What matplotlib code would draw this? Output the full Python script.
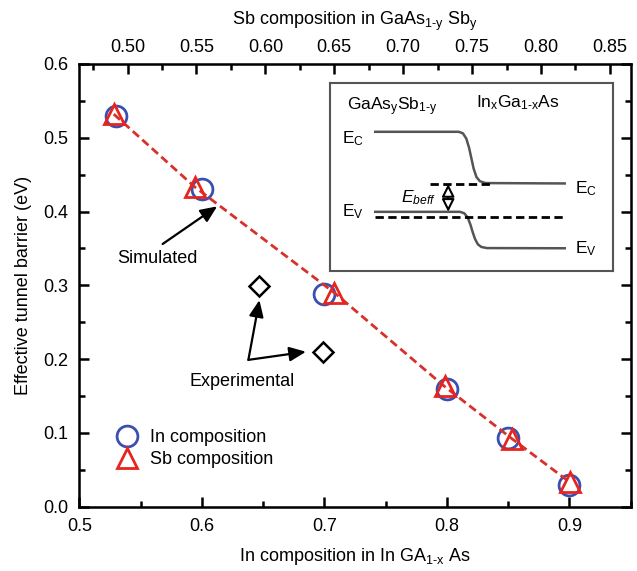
import numpy as np
import matplotlib
matplotlib.use("Agg")
import matplotlib.pyplot as plt
from matplotlib.ticker import MultipleLocator

plt.rcParams['font.family'] = 'Liberation Sans'
plt.rcParams['font.size'] = 12.5
plt.rcParams['mathtext.fontset'] = 'custom'
plt.rcParams['mathtext.rm'] = 'Liberation Sans'
plt.rcParams['mathtext.it'] = 'Liberation Sans:italic'
plt.rcParams['mathtext.default'] = 'regular'

HY = '\u2010'  # plain hyphen inside subscripts

# simulated barrier vs In composition (bottom axis)
in_comp = [0.53, 0.60, 0.70, 0.80, 0.85, 0.90]
in_barrier = [0.530, 0.430, 0.288, 0.160, 0.093, 0.030]

# simulated barrier vs Sb composition (top axis)
sb_comp = [0.490, 0.549, 0.650, 0.730, 0.779, 0.821]
sb_barrier = [0.532, 0.433, 0.290, 0.163, 0.092, 0.033]

# experimental points (bottom axis)
exp_comp = [0.647, 0.699]
exp_barrier = [0.299, 0.210]

# inset band diagram (schematic, inset-axes units)
ec_x = [0.16, 0.455, 0.47, 0.482, 0.492, 0.50, 0.508, 0.518, 0.53, 0.55, 0.83]
ec_y = [0.741, 0.741, 0.733, 0.705, 0.655, 0.60, 0.545, 0.50, 0.478, 0.468, 0.466]
ev_x = [0.16, 0.46, 0.475, 0.487, 0.497, 0.505, 0.513, 0.523, 0.535, 0.555, 0.83]
ev_y = [0.315, 0.315, 0.307, 0.285, 0.245, 0.205, 0.17, 0.142, 0.128, 0.122, 0.121]

BLUE = '#3b4fb0'
RED = '#e8241e'

fig = plt.figure(figsize=(6.37, 5.71), dpi=100)
ax = fig.add_axes([0.1245, 0.1126, 0.8655, 0.7754])

ax.plot(in_comp, in_barrier, 'o', ms=15, mfc='none', mec=BLUE, mew=2,
        label='In composition', zorder=3)
ax.plot(exp_comp, exp_barrier, 'D', ms=10, mfc='none', mec='black', mew=1.8,
        zorder=3)

ax.set_xlim(0.5, 0.95)
ax.set_ylim(0.0, 0.6)
ax.xaxis.set_major_locator(MultipleLocator(0.1))
ax.xaxis.set_minor_locator(MultipleLocator(0.05))
ax.yaxis.set_major_locator(MultipleLocator(0.1))
ax.yaxis.set_minor_locator(MultipleLocator(0.05))
ax.tick_params(which='both', direction='in', right=True, width=1.8)
ax.tick_params(which='major', length=7, labelsize=13, pad=8)
ax.tick_params(which='minor', length=4)
ax.set_xticklabels([f'{v:.1f}' for v in ax.get_xticks()])
ax.set_yticklabels([f'{v:.1f}' for v in ax.get_yticks()])
for s in ax.spines.values():
    s.set_linewidth(1.8)
ax.set_xlabel(f'In composition in In GA$_{{1{HY}x}}$ As', fontsize=13,
              labelpad=8)
ax.set_ylabel('Effective tunnel barrier (eV)', fontsize=13, labelpad=8)

ax2 = ax.twiny()
ax2.set_xlim(0.465, 0.865)
ax2.plot(sb_comp, sb_barrier, '--', color='#d6312a', lw=2, dashes=(3, 1.6),
         zorder=2)
ax2.plot(sb_comp, sb_barrier, '^', ms=15, mfc='none', mec=RED, mew=2,
         label='Sb composition', zorder=4)
ax2.xaxis.set_major_locator(MultipleLocator(0.05))
ax2.xaxis.set_minor_locator(MultipleLocator(0.025))
ax2.tick_params(which='both', direction='in', width=1.8)
ax2.tick_params(which='major', length=7, labelsize=13, pad=6)
ax2.tick_params(which='minor', length=4)
ax2.set_xticklabels([f'{v:.2f}' for v in ax2.get_xticks()])
ax2.set_xlabel(f'Sb composition in GaAs$_{{1{HY}y}}$ Sb$_{{y}}$', fontsize=13,
               labelpad=10)

h1, l1 = ax.get_legend_handles_labels()
h2, l2 = ax2.get_legend_handles_labels()
ax2.legend(h1 + h2, l1 + l2, loc='lower left', bbox_to_anchor=(0.04, 0.07),
           frameon=False, fontsize=13, handletextpad=0.3, labelspacing=0.3,
           borderaxespad=0)

arrow = dict(arrowstyle='-|>,head_length=0.8,head_width=0.35', color='black',
             lw=1.6, shrinkA=0, shrinkB=0)
ax.text(0.531, 0.337, 'Simulated', ha='left', va='center', fontsize=13)
ax.annotate('', xy=(0.6125, 0.407), xytext=(0.568, 0.356), arrowprops=arrow)
ax.text(0.590, 0.170, 'Experimental', ha='left', va='center', fontsize=13)
ax.annotate('', xy=(0.647, 0.280), xytext=(0.638, 0.199), arrowprops=arrow)
ax.annotate('', xy=(0.685, 0.210), xytext=(0.638, 0.199), arrowprops=arrow)

# inset band diagram
ins = fig.add_axes([0.518, 0.5254, 0.444, 0.329])
ins.set_xlim(0, 1)
ins.set_ylim(0, 1)
ins.set_xticks([])
ins.set_yticks([])
for s in ins.spines.values():
    s.set_linewidth(1.5)
    s.set_color('#555555')
ins.plot(ec_x, ec_y, color='#555555', lw=1.8)
ins.plot(ev_x, ev_y, color='#555555', lw=1.8)
ins.plot([0.353, 0.576], [0.463, 0.463], color='black', lw=2, dashes=(3, 1.6))
ins.plot([0.16, 0.83], [0.289, 0.289], color='black', lw=2, dashes=(3, 1.6))
ins.annotate('', xy=(0.418, 0.463), xytext=(0.418, 0.315),
             arrowprops=dict(arrowstyle='<|-|>,head_length=0.6,head_width=0.3',
                             fc='white', ec='black', lw=1.5,
                             shrinkA=0, shrinkB=0))
ins.text(0.059, 0.874, f'GaAs$_{{y}}$Sb$_{{1{HY}y}}$', fontsize=12.5,
         va='center')
ins.text(0.518, 0.894, f'In$_{{x}}$Ga$_{{1{HY}x}}$As', fontsize=12.5,
         va='center')
ins.text(0.041, 0.706, r'E$_{C}$', fontsize=12.5, va='center')
ins.text(0.041, 0.315, r'E$_{V}$', fontsize=12.5, va='center')
ins.text(0.866, 0.44, r'E$_{C}$', fontsize=12.5, va='center')
ins.text(0.866, 0.12, r'E$_{V}$', fontsize=12.5, va='center')
ins.text(0.375, 0.39, r'$\mathit{E}_{\mathit{beff}}$', fontsize=12.5,
         ha='right', va='center')

fig.savefig('out.png', dpi=100)
